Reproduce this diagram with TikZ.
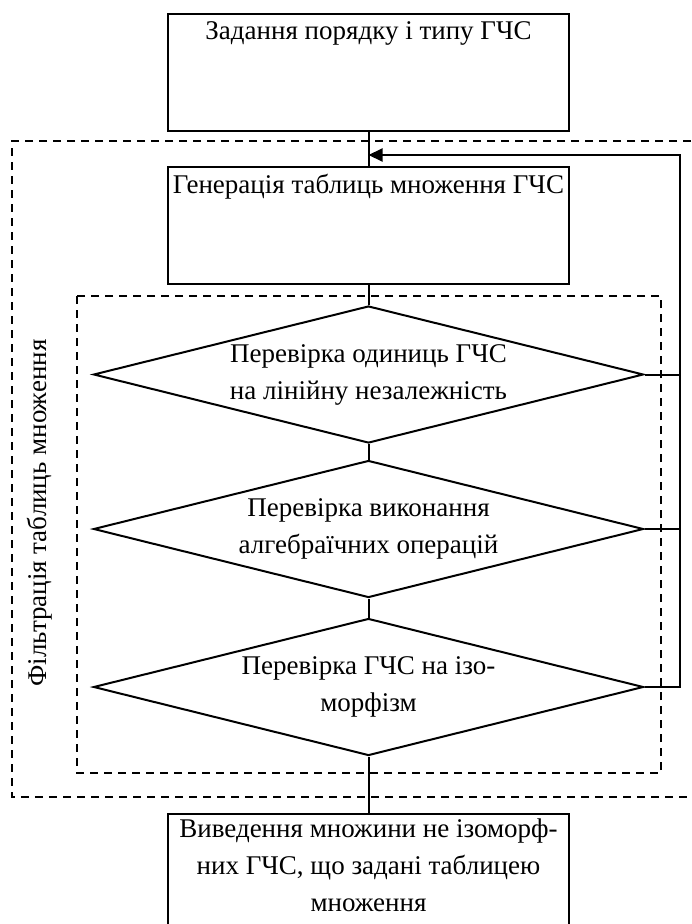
\documentclass[tikz,border=0pt]{standalone}
\usepackage{fontspec}
\setmainfont{Liberation Serif}
\usepackage{tikz}
\usetikzlibrary{shapes.geometric,arrows.meta,positioning}

\begin{document}
\begin{tikzpicture}[
		x=1pt, y=-1pt,
		Blocks/.style={draw=black,line width=2pt,minimum width=401pt,minimum height=117pt,inner sep=0pt},
		Checks/.style={draw=black,line width=2pt,diamond,aspect=4,minimum width=550pt,minimum height=137pt,inner sep=0pt,align=center},
		Frames/.style={draw=black,line width=1.6pt,dash pattern=on 8pt off 6pt},
		Links/.style={draw=black,line width=2pt},
		every node/.style={font=\fontsize{27}{37}\selectfont}
		]
		
		\useasboundingbox (0,0) rectangle (691,924);
		
		% frames of the filtering stage
		\draw[Frames] (705,141) -- (12,141) -- (12,797) -- (705,797);
		\draw[Frames] (77,296) rectangle (661,773);
		
		\node[rotate=90] (Filter) at (40,513) {Фільтрація таблиць множення};
		
		% blocks
		\node[Blocks] (Order) at (368.5,72.5) {};
		\node[anchor=base,inner sep=0pt] (OrderText) at (368.5,39) {Задання порядку і типу ГЧС};
		
		\node[Blocks] (Gener) at (368.5,225.5) {};
		\node[anchor=base,inner sep=0pt] (GenerText) at (368.5,193) {Генерація таблиць множення ГЧС};
		
		\node[Checks] (CheckA) at (368.5,374.5) {Перевірка одиниць ГЧС\\на лінійну незалежність};
		\node[Checks] (CheckB) at (368.5,529) {Перевірка виконання\\алгебраїчних операцій};
		\node[Checks] (CheckC) at (368.5,687) {Перевірка ГЧС на ізо-\\морфізм};
		
		\node[Blocks,anchor=north,minimum height=130pt] (Output) at (368.5,813) {};
		\node[anchor=north,inner sep=0pt,align=center] (OutputText) at (368.5,819) {Виведення множини не ізоморф-\\них ГЧС, що задані таблицею\\множення};
		
		% links
		\draw[Links] (Order.south) -- (Gener.north);
		\draw[Links] (Gener.south) -- (CheckA.north);
		\draw[Links] (CheckA.south) -- (CheckB.north);
		\draw[Links] (CheckB.south) -- (CheckC.north);
		\draw[Links] (CheckC.south) -- (Output.north);
		
		% way back
		\coordinate (Back) at (680,155);
		\draw[Links] (CheckA.east) -- (CheckA.east -| Back);
		\draw[Links] (CheckB.east) -- (CheckB.east -| Back);
		\draw[Links,-{Triangle[length=14pt,width=13pt]}] (CheckC.east) -- (CheckC.east -| Back) -- (Back) -- (Back -| Gener.north);
		
	\end{tikzpicture}
\end{document}
